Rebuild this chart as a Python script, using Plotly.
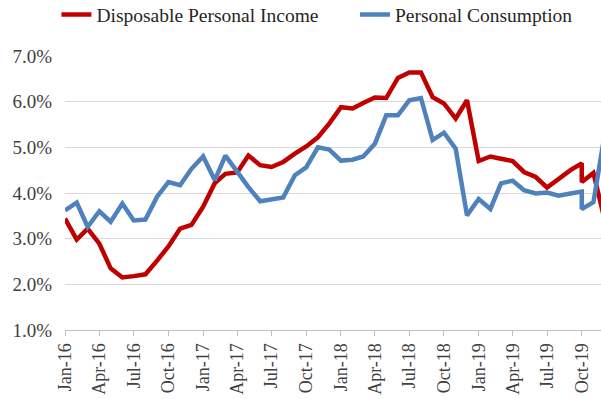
import plotly.graph_objects as go

# Monthly dates (Oct-19 appears twice in the source series)
dates = [
    "2016-01-01", "2016-02-01", "2016-03-01", "2016-04-01", "2016-05-01", "2016-06-01",
    "2016-07-01", "2016-08-01", "2016-09-01", "2016-10-01", "2016-11-01", "2016-12-01",
    "2017-01-01", "2017-02-01", "2017-03-01", "2017-04-01", "2017-05-01", "2017-06-01",
    "2017-07-01", "2017-08-01", "2017-09-01", "2017-10-01", "2017-11-01", "2017-12-01",
    "2018-01-01", "2018-02-01", "2018-03-01", "2018-04-01", "2018-05-01", "2018-06-01",
    "2018-07-01", "2018-08-01", "2018-09-01", "2018-10-01", "2018-11-01", "2018-12-01",
    "2019-01-01", "2019-02-01", "2019-03-01", "2019-04-01", "2019-05-01", "2019-06-01",
    "2019-07-01", "2019-08-01", "2019-09-01", "2019-10-01", "2019-10-01", "2019-11-01",
    "2019-12-01",
]

disposable_income = [
    3.44, 2.98, 3.22, 2.89, 2.35, 2.15, 2.18, 2.22, 2.52, 2.83, 3.22, 3.30,
    3.70, 4.22, 4.42, 4.45, 4.82, 4.61, 4.57, 4.68, 4.86, 5.02, 5.22, 5.52,
    5.88, 5.85, 5.97, 6.09, 6.08, 6.52, 6.64, 6.64, 6.10, 5.96, 5.63, 6.03,
    4.70, 4.80, 4.75, 4.70, 4.46, 4.35, 4.12, 4.32, 4.50, 4.65, 4.24, 4.44,
    3.40,
]

consumption = [
    3.62, 3.79, 3.26, 3.60, 3.37, 3.77, 3.40, 3.42, 3.92, 4.24, 4.17, 4.53,
    4.80, 4.28, 4.82, 4.46, 4.13, 3.82, 3.85, 3.90, 4.39, 4.56, 5.00, 4.95,
    4.71, 4.73, 4.80, 5.08, 5.70, 5.70, 6.03, 6.08, 5.16, 5.32, 4.97, 3.51,
    3.87, 3.65, 4.21, 4.27, 4.06, 3.99, 4.01, 3.94, 3.99, 4.03, 3.65, 3.80,
    5.30,
]

FONT = "Liberation Serif"
TXT = "#404040"
LEG_FONT = dict(family=FONT, size=19.5, color="#262626")

fig = go.Figure()
fig.add_trace(go.Scatter(
    x=dates, y=disposable_income, mode="lines",
    name="Disposable Personal Income",
    line=dict(color="#C00000", width=4.5),
    legend="legend",
))
fig.add_trace(go.Scatter(
    x=dates, y=consumption, mode="lines",
    name="Personal Consumption",
    line=dict(color="#4F81BD", width=4.5),
    legend="legend2",
))

fig.update_layout(
    width=601, height=399,
    margin=dict(l=65, r=0, t=56, b=69, autoexpand=False),
    paper_bgcolor="white", plot_bgcolor="white",
    font=dict(family=FONT, color=TXT, size=18),
    showlegend=True,
    legend=dict(
        orientation="h", x=-0.016, xanchor="left", y=1.15, yanchor="middle",
        font=LEG_FONT, bgcolor="rgba(0,0,0,0)",
    ),
    legend2=dict(
        orientation="h", x=0.541, xanchor="left", y=1.15, yanchor="middle",
        font=LEG_FONT, bgcolor="rgba(0,0,0,0)",
    ),
    xaxis=dict(
        type="date",
        range=["2016-01-01", "2019-11-21"],
        tick0="2016-01-01", dtick="M3", tickformat="%b-%y",
        tickangle=-90,
        showgrid=False, zeroline=False,
        showline=True, linecolor="#BFBFBF", linewidth=1,
        ticks="outside", ticklen=5, tickcolor="#BFBFBF",
        tickfont=dict(family=FONT, size=18, color=TXT),
    ),
    yaxis=dict(
        range=[1.0, 7.0], dtick=1, tick0=1,
        tickformat=".1f", ticksuffix="%",
        showgrid=True, gridcolor="#D9D9D9", gridwidth=1,
        zeroline=False, showline=False,
        ticks="", ticklabelstandoff=12,
        tickfont=dict(family=FONT, size=19, color=TXT),
    ),
)

fig.write_html("out.html")
